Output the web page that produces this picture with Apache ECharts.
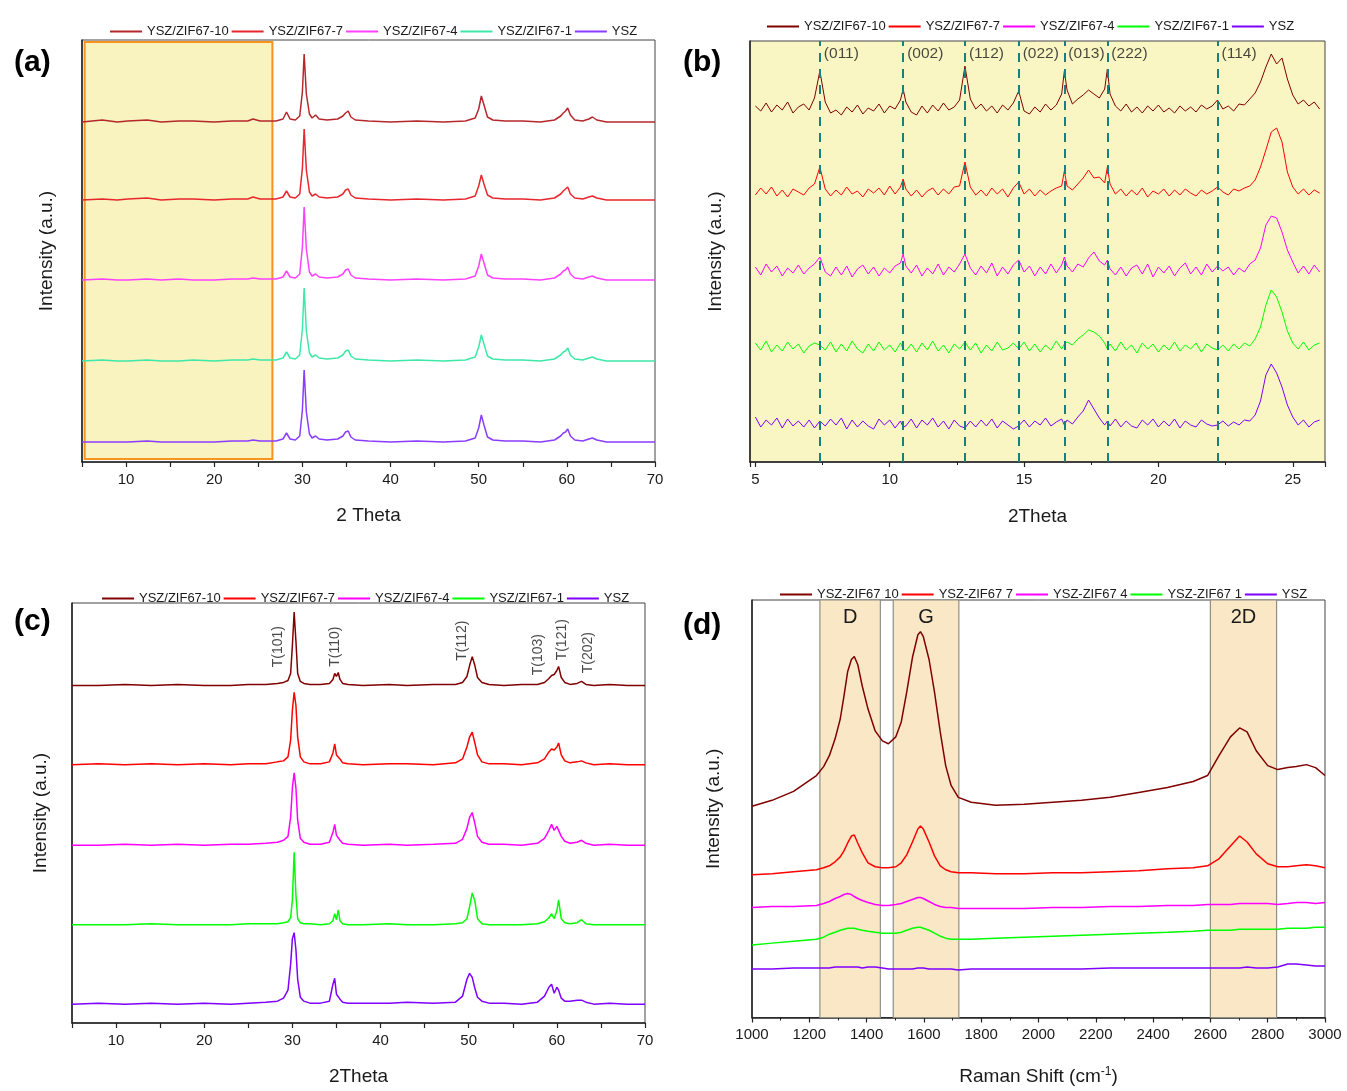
<!DOCTYPE html>
<html><head><meta charset="utf-8">
<script src="https://cdn.jsdelivr.net/npm/echarts@6/dist/echarts.min.js"></script>
<style>body{margin:0;background:#fff;width:1347px;height:1091px;overflow:hidden}.p{position:absolute}</style>
</head><body>
<div id="ca" class="p" style="left:0;top:0;width:680px;height:545px"></div>
<div id="cb" class="p" style="left:680px;top:0;width:667px;height:545px"></div>
<div id="cc" class="p" style="left:0;top:545px;width:680px;height:546px"></div>
<div id="cd" class="p" style="left:680px;top:545px;width:667px;height:546px"></div>
<script>
// ---------- names ----------
const namesXRD = ['YSZ/ZIF67-10','YSZ/ZIF67-7','YSZ/ZIF67-4','YSZ/ZIF67-1','YSZ'];
const namesRaman = ['YSZ-ZIF67 10','YSZ-ZIF67 7','YSZ-ZIF67 4','YSZ-ZIF67 1','YSZ'];

// ---------- panel (a): XRD full range ----------
const xA = [5,7.3,9,10.2,12.4,14,16,17.6,20,22,
 23.8,24.4,25.2,27.0,27.8,28.2,28.6,29.2,29.7,30.0,
 30.2,30.45,30.8,31.1,31.5,31.9,32.8,34.0,34.6,34.9,
 35.2,35.5,36.0,37.5,40,43,46,48.5,49.6,50.0,
 50.3,50.6,51.0,51.6,53,55,57,58.6,59.3,59.6,
 59.85,60.1,60.4,60.9,61.8,62.5,62.9,63.4,64.5,67,
 70];
const aS10 = [0,2,0,1,2,0,1,1,0,1, 1,3,1,1,3,10,3,2,6,30, 68,28,8,4,7,3,2,3,6,9, 11,5,2,1,0,1,0,1,4,13, 26,17,5,2,1,1,0,2,6,9, 11,14,7,2,1,3,5,2,0,0, 0];
const aS7  = [0,1,0,1,2,0,1,1,0,1, 1,3,1,1,3,9,3,2,6,32, 71,30,8,4,6,3,2,3,6,10, 11,5,2,1,0,1,0,1,4,14, 25,16,5,2,1,1,0,2,6,9, 11,13,6,2,1,3,4,2,0,0, 0];
const aS4  = [0,1,0,0,1,0,1,0,0,1, 1,2,1,1,3,9,3,2,6,33, 73,31,8,4,6,3,2,3,6,10, 11,5,2,1,0,1,0,1,4,14, 26,17,5,2,1,1,0,2,6,9, 10,13,6,2,1,3,4,2,0,0, 0];
const aS1  = [0,1,0,0,1,0,0,1,0,1, 1,2,1,1,3,9,3,2,6,32, 73,30,8,4,6,3,2,3,6,10, 11,5,2,1,0,1,0,1,4,14, 26,17,5,2,1,1,0,2,6,9, 10,13,6,2,1,3,4,2,0,0, 0];
const aS0  = [0,0,0,0,1,0,0,0,0,1, 1,2,1,1,3,9,3,2,6,32, 72,30,8,4,6,3,2,3,6,10, 11,5,2,1,0,1,0,1,4,14, 27,17,5,2,1,1,0,2,6,9, 10,13,6,2,1,3,4,2,0,0, 0];
const offsetsA = [340,262,182,101,20];
const boxA = [5.3, 26.6, 3, 420]; // highlighted 2θ window

// ---------- panel (b): low-angle zoom ----------
const xB = [5.0,5.2,5.4,5.6,5.8,6.0,6.2,6.4,6.6,6.8,
 7.0,7.2,7.4,7.6,7.8,8.0,8.2,8.4,8.6,8.8,
 9.0,9.2,9.4,9.6,9.8,10.0,10.2,10.4,10.5,10.6,
 10.8,11.0,11.2,11.4,11.6,11.8,12.0,12.2,12.4,12.6,
 12.8,13.0,13.2,13.4,13.6,13.8,14.0,14.2,14.4,14.6,
 14.8,15.0,15.2,15.4,15.6,15.8,16.0,16.2,16.4,16.5,
 16.6,16.8,17.0,17.2,17.4,17.6,17.8,18.0,18.1,18.2,
 18.4,18.6,18.8,19.0,19.2,19.4,19.6,19.8,20.0,20.2,
 20.4,20.6,20.8,21.0,21.2,21.4,21.6,21.8,22.0,22.2,
 22.4,22.6,22.8,23.0,23.2,23.4,23.6,23.8,24.0,24.2,
 24.4,24.6,24.8,25.0,25.2,25.4,25.6,25.8,26.0];
const bS10 = [2,-3,5,-4,3,-2,6,-5,1,4, -2,10,37,6,-5,-2,-7,1,-4,3, -6,0,-3,4,-5,2,-1,8,19,6, -4,-7,2,-5,3,-3,5,-2,1,8,
 42,9,-1,4,-3,2,-5,3,-2,5, 17,-3,-6,1,-4,4,-2,3,14,37, 18,4,9,13,18,14,10,19,39,14, 2,-3,4,-4,1,-5,2,-3,3,-4,
 0,-5,2,-3,1,-4,3,-1,2,8, -1,2,-3,4,3,9,15,26,41,54, 44,50,29,13,4,8,2,6,-1];
const bS7 = [-3,4,-2,5,-4,2,-5,3,0,-3, 4,8,25,3,-4,2,-3,5,-2,1, -5,3,-1,4,-3,6,-2,5,13,3, -4,2,-5,1,4,-3,3,-2,5,6,
 30,5,-3,2,-4,4,-2,3,-5,4, 10,-2,3,-4,2,-3,1,4,6,21, 6,2,8,14,22,14,15,9,25,8, -2,3,-4,2,-3,4,-5,1,-2,3,
 -4,2,-3,3,-1,-4,2,-2,1,5, 0,-3,3,1,4,6,12,25,42,60, 64,50,20,5,-2,3,-3,2,-1];
const bS4 = [3,-5,6,-2,4,-6,2,-3,5,-4, 2,6,13,-2,-6,3,-5,4,-7,1, 5,-4,3,-6,2,-3,4,7,16,4, -3,5,-6,2,-4,6,-5,3,-2,6,
 16,2,-5,4,-3,7,-6,3,-4,5, 10,-2,4,-6,3,-4,6,-3,5,13, 4,-2,6,3,12,18,9,5,10,1, -5,3,-6,2,5,-4,6,-7,3,-3,
 4,-6,2,7,-4,3,-5,6,-2,4, -1,3,-5,2,-2,6,10,22,45,54, 52,38,20,8,-3,4,-4,5,-2];
const bS1 = [4,-3,6,-5,2,-4,5,-2,3,-6, 1,4,2,-3,5,-5,3,-4,6,-2, -6,3,-4,5,-3,2,-5,4,-2,-4, 3,-5,4,-3,6,-4,2,-6,3,-2,
 5,-3,4,-6,2,-4,5,-3,-1,4, -2,5,-4,3,-5,2,-3,6,-2,3, 5,2,8,12,17,15,11,4,-2,3, -4,5,-3,2,-6,4,-2,3,-5,2,
 -3,5,-4,2,-2,4,-5,3,-1,-3, 2,-4,3,-2,4,1,8,20,42,57, 50,35,16,4,-2,5,-3,2,4];
const bS0 = [6,-4,3,-2,5,-5,4,-3,2,-4, 3,-5,2,-3,4,-2,5,-6,3,-4, 2,-3,-6,4,-2,3,-5,2,-4,-3, 4,-5,3,-2,5,-4,2,-6,3,-3,
 -5,2,-4,3,-3,4,-5,2,-2,-6, -3,3,-4,2,-2,5,-3,1,4,-2, 3,-1,6,12,23,14,5,-2,2,-3, 4,-4,2,-3,-5,3,-2,4,-4,2,
 -3,4,-5,2,-2,-4,3,-1,-3,-2, 2,-3,1,-2,3,2,8,22,48,59, 50,36,18,6,-2,3,-4,1,3];
const offsetsB = [354,270,192,115,39];
const hklPos = [7.4,10.5,12.8,14.8,16.5,18.1,22.2];
const hklLabels = ['(011)','(002)','(112)','(022)','(013)','(222)','(114)'];
const hklLabelY = 408;

// ---------- panel (c): XRD with tetragonal indices ----------
const xC = [5,8,11,14,17,20,23,25,27,28.3,
 29.0,29.5,29.8,30.0,30.2,30.4,30.6,30.9,31.3,32,
 33.2,34.2,34.6,34.8,35.0,35.2,35.4,35.7,36.3,38,
 41,43,46,48.5,49.3,49.8,50.1,50.4,50.7,51.0,
 51.5,52.3,54,56,57.8,58.6,59.1,59.4,59.7,60.0,
 60.2,60.5,60.9,61.5,62.3,62.8,63.3,64.2,66,68,
 70];
const cS10 = [0,0,1,0,1,0,0,1,1,2, 3,5,12,40,74,45,12,4,2,1, 1,2,6,12,9,13,6,2,1,0, 1,0,1,1,3,9,20,29,20,8, 3,1,0,1,1,3,7,10,11,15, 19,8,3,1,2,4,1,0,1,0, 0];
const cS7  = [0,1,0,1,0,1,0,1,1,3, 4,8,25,55,73,60,28,8,3,1, 1,3,12,21,10,12,6,2,1,0, 1,1,0,2,6,18,28,33,22,10, 3,1,1,0,2,6,13,16,15,18, 22,10,4,2,3,4,2,0,1,0, 0];
const cS4  = [0,0,1,0,1,0,1,1,2,3, 5,9,28,58,73,58,25,7,3,1, 1,3,13,21,10,12,5,2,1,0, 1,0,1,2,6,17,28,33,22,9, 3,1,1,0,2,7,15,21,15,19, 21,9,4,2,3,5,2,0,1,0, 0];
const cS1  = [0,0,0,1,0,0,0,1,1,1, 2,3,7,25,73,30,6,2,1,1, 0,1,4,11,5,15,4,1,0,0, 1,0,0,1,2,6,18,32,24,6, 1,0,0,0,1,3,7,11,6,14, 25,6,2,1,2,5,1,0,0,0, 0];
const cS0  = [0,1,0,1,0,1,0,1,2,3, 6,14,40,66,72,55,25,7,3,1, 1,3,20,26,10,11,5,2,1,1, 1,2,1,2,8,25,31,27,16,7, 3,1,1,0,2,8,17,20,11,17, 14,6,3,3,4,4,2,0,1,0, 0];
const offsetsC = [340,260,179,99,19];
const tLabels = ['T(101)','T(110)','T(112)','T(103)','T(121)','T(202)'];
const tLabelX = [28.4,34.9,49.3,57.9,60.6,63.5];
const tLabelY = [379,379,385,371,386,373];

// ---------- panel (d): Raman ----------
const xD = [1000,1070,1145,1225,1250,1270,1290,1308,1321,1334,
 1347,1357,1369,1385,1405,1430,1455,1476,1502,1521,
 1540,1560,1579,1588,1598,1618,1637,1657,1676,1695,
 1720,1765,1850,1950,2050,2150,2250,2350,2450,2540,
 2590,2630,2670,2702,2728,2760,2800,2835,2870,2900,
 2935,2967,3000];
const dS10 = [213,219,228,244,253,264,281,301,324,349, 361,364,356,334,311,289,279,276,283,298, 328,363,386,389,384,361,328,288,254,234, 222,217,214,215,217,219,222,227,232,238, 244,264,283,292,288,269,254,250,252,253, 255,252,244];
const dS7  = [144,145,147,149,151,153,157,162,168,176, 183,184,176,166,156,152,151,151,152,156, 164,177,190,193,190,177,163,153,149,147, 146,146,145,145,146,146,147,148,150,151, 153,160,173,183,177,165,155,152,152,153, 154,153,151];
const dS4  = [111,112,112,113,115,117,120,122,124,125, 124,122,120,118,116,114,113,113,114,115, 117,119,121,121,120,117,114,112,111,111, 110,110,110,110,111,111,112,112,113,113, 114,114,114,115,115,115,115,114,115,116, 116,115,116];
const dS1  = [73,75,77,79,81,84,86,88,89,90, 90,90,89,88,87,86,85,85,85,86, 88,90,91,91,90,88,85,82,80,79, 79,79,80,81,82,83,84,85,86,87, 88,88,88,89,89,89,89,89,90,90, 90,91,91];
const dS0  = [49,49,50,50,50,50,51,51,51,51, 51,51,51,50,51,51,50,49,49,49, 49,49,50,50,50,49,49,49,49,49, 48,49,49,49,49,49,50,50,50,50, 50,50,50,50,51,50,50,51,54,54, 53,52,52];
const bandLabels = ['D','G','2D'];
const bandStart = [1237,1493,2600];
const bandEnd = [1448,1722,2831];

// ---------- styling helpers ----------
const FONT = "'Liberation Sans', Arial, sans-serif";
const TXT = '#1a1a1a';
function line(name, xs, ys, off, color, width){
  return {type:'line', name, data: xs.map((x,i)=>[x, ys[i]+off]), showSymbol:false, symbol:'none',
    lineStyle:{color, width}, itemStyle:{color}, z:3, animation:false, silent:true};
}
function xAxisCfg(name, min, max, interval, fmt, gap, minor){
  const ax = {type:'value', min, max, name, nameLocation:'middle', nameGap:gap,
    nameTextStyle:{fontSize:19, color:TXT, fontFamily:FONT},
    axisLine:{show:true, onZero:false, lineStyle:{color:'#222', width:1.5}},
    axisTick:{show:true, inside:false, length:5, lineStyle:{color:'#222', width:1.2}},
    axisLabel:{fontSize:15, color:TXT, fontFamily:FONT, margin:10, showMinLabel:true, showMaxLabel:true, formatter:fmt},
    splitLine:{show:false}};
  if (interval) ax.interval = interval;
  if (minor) ax.minorTick = {show:true, splitNumber:2, length:3, lineStyle:{color:'#222', width:1}};
  return ax;
}
function yAxisCfg(max, gap){
  return {type:'value', min:0, max, name:'Intensity (a.u.)', nameLocation:'middle', nameGap:gap,
    nameTextStyle:{fontSize:19, color:TXT, fontFamily:FONT},
    axisLine:{show:true, onZero:false, lineStyle:{color:'#222', width:1.5}},
    axisTick:{show:false}, axisLabel:{show:false}, splitLine:{show:false}};
}
function legendCfg(names, left, top){
  return {left, top, icon:'rect', itemWidth:32, itemHeight:2, itemGap:3, selectedMode:false, data:names,
    textStyle:{fontSize:13, color:TXT, fontFamily:FONT}};
}
function panelLabel(t, left, top){
  return [{type:'text', left, top, style:{text:t, font:'bold 30px '+FONT, fill:'#000'}}];
}
function gridCfg(left, top, width, height, bg){
  return {left, top, width, height, show:true, borderColor:'#444', borderWidth:1, backgroundColor:bg||'transparent'};
}
const fmt10 = v => (Math.abs(v % 10) < 1e-6 ? String(v) : '');
const fmt5 = v => (Math.abs(v % 5) < 1e-6 ? String(v) : '');
const fmtPlain = v => String(v);

// ---------- chart (a) ----------
const colA = ['#b5282c','#e8262d','#ff40ff','#3ee8a8','#8a3cff'];
const seriesA = [{type:'line', name:'box', data:[], z:1, silent:true,
  markArea:{silent:true, itemStyle:{color:'#f8f3bf', borderColor:'#f7931e', borderWidth:2},
    data:[[{xAxis:boxA[0], yAxis:boxA[2]},{xAxis:boxA[1], yAxis:boxA[3]}]]}}];
[aS10,aS7,aS4,aS1,aS0].forEach((ys,i)=>seriesA.push(line(namesXRD[i], xA, ys, offsetsA[i], colA[i], 1.5)));
echarts.init(document.getElementById('ca')).setOption({
  animation:false,
  grid: gridCfg(82,40,573,422),
  xAxis: xAxisCfg('2 Theta',5,70,5,fmt10,44,false),
  yAxis: yAxisCfg(422,26),
  legend: legendCfg(namesXRD,105,20),
  graphic: panelLabel('(a)',14,48),
  series: seriesA
});

// ---------- chart (b) ----------
const colB = ['#800000','#ff0000','#ff00ff','#00ff00','#7f00ff'];
const seriesB = [{type:'line', name:'hkl', data:[], z:2, silent:true,
  markLine:{silent:true, symbol:'none', label:{show:false},
    lineStyle:{color:'#17807c', width:2, type:[9,7]},
    data: hklPos.map(x=>({xAxis:x}))}}];
[bS10,bS7,bS4,bS1,bS0].forEach((ys,i)=>seriesB.push(line(namesXRD[i], xB, ys, offsetsB[i], colB[i], 1)));
seriesB.push({type:'scatter', name:'hklText', symbolSize:0, silent:true, z:4,
  data: hklPos.map((x,i)=>({value:[x, hklLabelY], name:hklLabels[i]})),
  label:{show:true, formatter:'{b}', position:'right', distance:4, fontSize:15.5, color:TXT, fontFamily:FONT}});
echarts.init(document.getElementById('cb')).setOption({
  animation:false,
  grid: gridCfg(70,41,575,421,'#faf6c4'),
  xAxis: xAxisCfg('2Theta',4.8,26.2,null,fmt5,45,true),
  yAxis: yAxisCfg(421,25),
  legend: legendCfg(namesXRD,82,15),
  graphic: panelLabel('(b)',3,48),
  series: seriesB
});

// ---------- chart (c) ----------
const seriesC = [];
[cS10,cS7,cS4,cS1,cS0].forEach((ys,i)=>seriesC.push(line(namesXRD[i], xC, ys, offsetsC[i], colB[i], 1.5)));
seriesC.push({type:'scatter', name:'tText', symbolSize:0, silent:true, z:4,
  data: tLabelX.map((x,i)=>({value:[x, tLabelY[i]], name:tLabels[i]})),
  label:{show:true, formatter:'{b}', position:'inside', rotate:90, fontSize:14, color:TXT, fontFamily:FONT}});
echarts.init(document.getElementById('cc')).setOption({
  animation:false,
  grid: gridCfg(72,58,573,423),
  xAxis: xAxisCfg('2Theta',5,70,5,fmt10,44,false),
  yAxis: yAxisCfg(423,22),
  legend: legendCfg(namesXRD,97,42),
  graphic: panelLabel('(c)',14,62),
  series: seriesC
});

// ---------- chart (d) ----------
const seriesD = [{type:'line', name:'bands', data:[], z:1, silent:true,
  markArea:{silent:true, itemStyle:{color:'#f9e7c5', borderColor:'#8f8f86', borderWidth:1.2},
    label:{show:true, position:'insideTop', distance:8, fontSize:20, color:TXT, fontFamily:FONT},
    data: bandLabels.map((n,i)=>[{name:n, xAxis:bandStart[i]},{xAxis:bandEnd[i]}])}}];
[dS10,dS7,dS4,dS1,dS0].forEach((ys,i)=>seriesD.push(line(namesRaman[i], xD, ys, 0, colB[i], 1.5)));
const xAxD = xAxisCfg('Raman Shift (cm{sup|-1})',1000,3000,200,fmtPlain,48,true);
xAxD.nameTextStyle.rich = {sup:{fontSize:12, verticalAlign:'top', padding:[0,0,10,0], color:TXT, fontFamily:FONT}};
echarts.init(document.getElementById('cd')).setOption({
  animation:false,
  grid: gridCfg(72,55,573,421),
  xAxis: xAxD,
  yAxis: yAxisCfg(421,29),
  legend: legendCfg(namesRaman,95,38),
  graphic: panelLabel('(d)',3,66),
  series: seriesD
});
</script>
</body></html>
